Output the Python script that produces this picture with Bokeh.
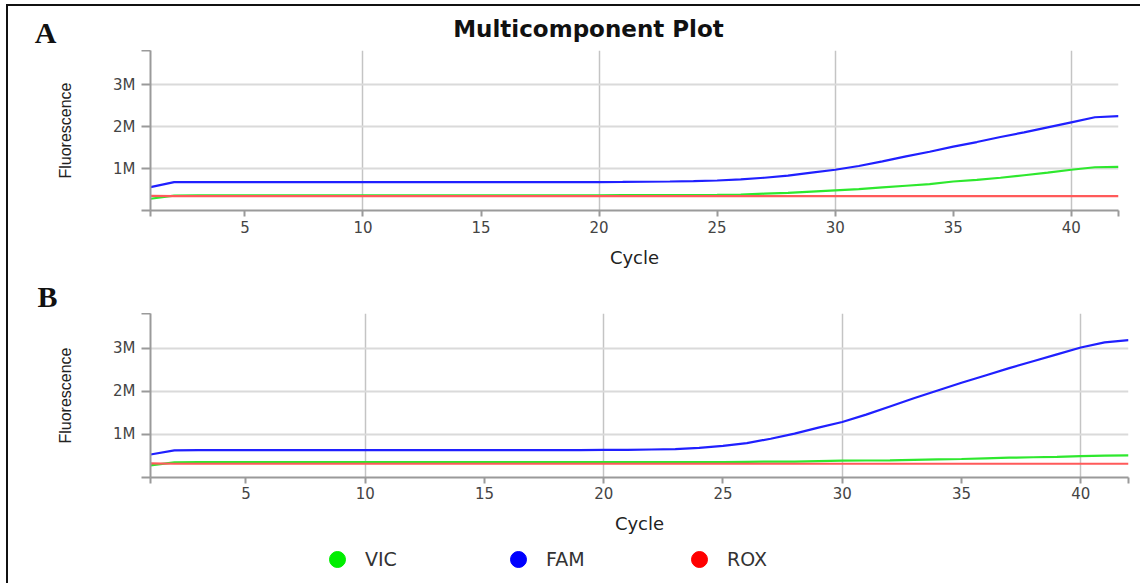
from bokeh.plotting import figure
from bokeh.models import FixedTicker, Label, Legend, LegendItem, Range1d
from bokeh.layouts import column
from bokeh.embed import file_html
from bokeh.resources import INLINE

cycles = list(range(1, 43))

# Panel A values (fluorescence, millions)
fam_a = [0.555, 0.675, 0.675, 0.675, 0.675, 0.675, 0.675, 0.675, 0.675, 0.675,
         0.675, 0.675, 0.675, 0.675, 0.675, 0.678, 0.678, 0.678, 0.678, 0.678,
         0.68, 0.685, 0.69, 0.70, 0.714, 0.74, 0.78, 0.83, 0.90, 0.97,
         1.06, 1.17, 1.29, 1.40, 1.52, 1.63, 1.75, 1.86, 1.98, 2.10,
         2.22, 2.245]
vic_a = [0.28, 0.355, 0.36, 0.36, 0.36, 0.36, 0.36, 0.36, 0.36, 0.36,
         0.36, 0.36, 0.36, 0.36, 0.36, 0.36, 0.36, 0.36, 0.36, 0.36,
         0.365, 0.365, 0.365, 0.365, 0.37, 0.38, 0.40, 0.42, 0.45, 0.48,
         0.51, 0.55, 0.59, 0.63, 0.69, 0.73, 0.78, 0.84, 0.90, 0.97,
         1.03, 1.04]
rox_a = [0.35, 0.34, 0.34, 0.34, 0.34, 0.34, 0.34, 0.34, 0.34, 0.34,
         0.34, 0.34, 0.34, 0.34, 0.34, 0.34, 0.34, 0.34, 0.34, 0.34,
         0.34, 0.34, 0.34, 0.34, 0.34, 0.34, 0.34, 0.34, 0.34, 0.34,
         0.34, 0.34, 0.34, 0.34, 0.34, 0.34, 0.34, 0.34, 0.34, 0.34,
         0.34, 0.34]

# Panel B values (fluorescence, millions)
fam_b = [0.535, 0.63, 0.635, 0.635, 0.635, 0.635, 0.635, 0.635, 0.635, 0.635,
         0.635, 0.635, 0.635, 0.635, 0.635, 0.635, 0.635, 0.635, 0.635, 0.64,
         0.64, 0.65, 0.66, 0.69, 0.735, 0.80, 0.90, 1.02, 1.16, 1.29,
         1.46, 1.65, 1.84, 2.02, 2.20, 2.37, 2.54, 2.70, 2.86, 3.02,
         3.14, 3.19]
vic_b = [0.28, 0.35, 0.355, 0.355, 0.355, 0.355, 0.355, 0.355, 0.355, 0.355,
         0.355, 0.355, 0.355, 0.355, 0.355, 0.355, 0.355, 0.355, 0.355, 0.355,
         0.355, 0.355, 0.355, 0.355, 0.36, 0.365, 0.37, 0.37, 0.38, 0.39,
         0.395, 0.40, 0.41, 0.42, 0.43, 0.445, 0.46, 0.47, 0.48, 0.495,
         0.51, 0.515]
rox_b = [0.33, 0.32, 0.32, 0.32, 0.32, 0.32, 0.32, 0.32, 0.32, 0.32,
         0.32, 0.32, 0.32, 0.32, 0.32, 0.32, 0.32, 0.32, 0.32, 0.32,
         0.32, 0.32, 0.32, 0.32, 0.32, 0.32, 0.32, 0.32, 0.32, 0.32,
         0.32, 0.32, 0.32, 0.32, 0.32, 0.32, 0.32, 0.32, 0.32, 0.32,
         0.32, 0.32]

dye_names = ["VIC", "FAM", "ROX"]
line_colors = ["#2ee82e", "#2020ff", "#ff5a5a"]
marker_colors = ["#00ee00", "#0000ff", "#ff0000"]

y_ticks = [0, 1000000, 2000000, 3000000, 3810000]
y_tick_labels = ["", "1M", "2M", "3M", ""]
x_ticks = [1, 5, 10, 15, 20, 25, 30, 35, 40, 42]
x_tick_labels = ["", "5", "10", "15", "20", "25", "30", "35", "40", ""]
x_grid = [10, 20, 30, 40]
y_grid = [1000000, 2000000, 3000000]

AXIS = "#9a9a9a"
SANS = "DejaVu Sans"
W = 1132


def blank(height):
    p = figure(width=W, height=height, output_backend="svg", toolbar_location=None,
               x_range=Range1d(0, 1), y_range=Range1d(0, 1),
               x_axis_type=None, y_axis_type=None,
               min_border_left=0, min_border_right=0, min_border_top=0, min_border_bottom=0)
    p.grid.visible = False
    p.outline_line_color = None
    p.frame_align = False
    return p


def make_panel(series, height, mb_bottom, mb_right, label_standoff, xlabel_standoff):
    p = figure(width=W, height=height, output_backend="svg", toolbar_location=None,
               x_range=Range1d(1, 42), y_range=Range1d(0, 3810000),
               min_border_left=142, min_border_right=mb_right,
               min_border_top=0, min_border_bottom=mb_bottom)
    p.frame_align = False
    p.outline_line_color = None

    for vals, col in zip(series, line_colors):
        p.line(cycles, [v * 1e6 for v in vals], line_color=col, line_width=2.2)

    p.xaxis.ticker = FixedTicker(ticks=x_ticks)
    p.xaxis.major_label_overrides = dict(zip(x_ticks, x_tick_labels))
    p.yaxis.ticker = FixedTicker(ticks=y_ticks)
    p.yaxis.major_label_overrides = dict(zip(y_ticks, y_tick_labels))
    for ax in (p.xaxis[0], p.yaxis[0]):
        ax.axis_line_color = AXIS
        ax.axis_line_width = 2
        ax.major_tick_line_color = AXIS
        ax.major_tick_line_width = 2
        ax.major_tick_in = 0
        ax.minor_tick_line_color = None
        ax.major_label_text_font = SANS
        ax.major_label_text_font_size = "15px"
        ax.major_label_text_color = "#444444"
        ax.axis_label_text_font_style = "normal"
        ax.axis_label_text_color = "#222222"
    p.xaxis.major_tick_out = 6
    p.yaxis.major_tick_out = 9
    p.xaxis.major_label_standoff = label_standoff
    p.yaxis.major_label_standoff = 6
    p.xaxis.axis_label = "Cycle"
    p.xaxis.axis_label_text_font = SANS
    p.xaxis.axis_label_text_font_size = "18px"
    p.xaxis.axis_label_standoff = xlabel_standoff
    p.yaxis.axis_label = "Fluorescence"
    p.yaxis.axis_label_text_font = "Liberation Sans"
    p.yaxis.axis_label_text_font_size = "16px"
    p.yaxis.axis_label_standoff = 36

    p.xgrid.ticker = FixedTicker(ticks=x_grid)
    p.ygrid.ticker = FixedTicker(ticks=y_grid)
    p.xgrid.grid_line_color = "#c4c4c4"
    p.xgrid.grid_line_width = 1.5
    p.ygrid.grid_line_color = "#dadada"
    p.ygrid.grid_line_width = 2
    return p


def letter(txt, x, y):
    return Label(x=x, y=y, x_units="screen", y_units="screen", text=txt,
                 text_font="Liberation Serif", text_font_style="bold",
                 text_font_size="30px", text_align="center", text_baseline="alphabetic",
                 text_color="#111111")


# header of panel A: letter and title
head_a = blank(44)
head_a.add_layout(letter("A", 37, 18))
head_a.add_layout(Label(x=580, y=22, x_units="screen", y_units="screen",
                        text="Multicomponent Plot", text_font=SANS, text_font_style="bold",
                        text_font_size="23px", text_align="center", text_baseline="alphabetic",
                        text_color="#111111"))

pa = make_panel([vic_a, fam_a, rox_a], 222, 62, 22, 4, 11)

head_b = blank(41)
head_b.add_layout(letter("B", 39, 17))

pb = make_panel([vic_b, fam_b, rox_b], 226, 62, 12, 3, 11)

# legend row with round markers (renderers hold no drawable point)
leg = blank(44)
items = []
for name, col in zip(dye_names, marker_colors):
    r = leg.scatter([float("nan")], [float("nan")], marker="circle",
                    fill_color=col, line_color=col, size=16)
    items.append(LegendItem(label=name, renderers=[r]))
legend = Legend(items=items, orientation="horizontal", location=(309, 4),
                glyph_width=40, glyph_height=40, label_standoff=8, label_width=80,
                spacing=53, padding=0, margin=0, border_line_color=None,
                background_fill_alpha=0, label_text_font=SANS,
                label_text_font_size="19px", label_text_color="#333333")
leg.add_layout(legend)

layout = column(head_a, pa, head_b, pb, leg, spacing=0,
                styles={"margin-left": "6px", "margin-top": "4px",
                        "border-left": "2px solid #111111",
                        "border-top": "2px solid #111111"})

open("out.html", "w").write(file_html(layout, INLINE))
